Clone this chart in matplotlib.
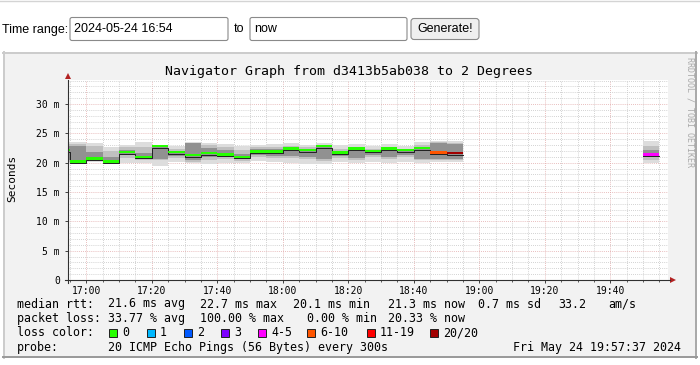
import matplotlib
matplotlib.use("Agg")
import matplotlib.pyplot as plt
from matplotlib.patches import Rectangle, FancyBboxPatch, Polygon

# smokeping samples, one per 5 min step (start of step), values in ms
times = ["16:50", "16:55", "17:00", "17:05", "17:10", "17:15", "17:20", "17:25",
         "17:30", "17:35", "17:40", "17:45", "17:50", "17:55", "18:00", "18:05",
         "18:10", "18:15", "18:20", "18:25", "18:30", "18:35", "18:40", "18:45",
         "18:50", "19:50"]
median_ms = [22.0, 20.1, 20.6, 20.1, 21.7, 20.9, 22.7, 21.7, 21.2, 21.5, 21.3, 20.9,
             21.8, 21.8, 22.3, 22.0, 22.7, 21.6, 22.3, 21.9, 22.3, 22.0, 22.4, 21.6,
             21.5, 21.3]
smoke_lo = [19.8, 19.7, 20.2, 19.7, 19.9, 19.9, 19.5, 20.1, 19.9, 19.8, 20.0, 19.9,
            20.3, 20.1, 20.0, 19.8, 19.7, 20.1, 19.9, 20.2, 19.9, 20.1, 19.9, 20.1,
            20.1, 20.0]
smoke_hi = [23.6, 23.6, 23.3, 22.6, 23.0, 23.5, 23.1, 22.9, 23.6, 23.4, 23.2, 22.8,
            23.0, 23.2, 23.4, 23.0, 23.4, 23.0, 23.2, 22.9, 23.2, 22.9, 23.6, 23.7,
            23.7, 23.7]
mid_lo = [20.2, 20.0, 20.5, 19.9, 20.8, 20.4, 20.4, 20.8, 20.2, 20.5, 20.7, 20.3,
          21.0, 20.8, 20.8, 20.6, 20.3, 20.8, 20.5, 20.9, 20.6, 20.9, 20.4, 20.5,
          20.5, 20.4]
mid_hi = [23.2, 23.2, 22.9, 22.0, 22.6, 22.6, 22.9, 22.4, 23.4, 23.0, 22.7, 22.2,
          22.7, 22.7, 22.8, 22.6, 23.0, 22.4, 22.7, 22.4, 22.7, 22.4, 23.0, 23.5,
          23.4, 22.9]
core_lo = [20.4, 20.3, 20.9, 20.2, 21.3, 20.8, 20.7, 21.2, 20.4, 20.9, 21.0, 20.6,
           21.3, 21.2, 21.2, 20.9, 20.6, 21.1, 20.8, 21.3, 20.9, 21.3, 20.7, 20.7,
           20.7, 20.9]
core_hi = [22.9, 22.8, 21.9, 21.0, 22.2, 21.6, 22.8, 22.0, 23.3, 22.5, 22.1, 21.4,
           22.3, 22.3, 22.5, 22.4, 22.9, 22.0, 22.6, 21.9, 22.5, 22.1, 22.6, 23.3,
           23.2, 22.2]
loss_class = [0] * 23 + [5, 7, 4]

loss_labels = ["0", "1", "2", "3", "4-5", "6-10", "11-19", "20/20"]
loss_colors = ["#26ff00", "#00b8ff", "#0059ff", "#7e00ff", "#ff00ff", "#ff5500",
               "#ff0000", "#a10000"]

x_ticks = ["17:00", "17:20", "17:40", "18:00", "18:20", "18:40", "19:00", "19:20", "19:40"]
y_ticks = [0, 5, 10, 15, 20, 25, 30]
y_tick_labels = ["0", "5 m", "10 m", "15 m", "20 m", "25 m", "30 m"]
t_start, t_end = "16:54:25", "19:57:37"
y_top = 34.1

MONO = "DejaVu Sans Mono"


def to_min(s):
    p = [int(v) for v in s.split(":")] + [0]
    return p[0] * 60 + p[1] + p[2] / 60.0 - 16 * 60


fig = plt.figure(figsize=(7, 3.65), dpi=100)

# page / rrdtool frame in pixel coordinates
bg = fig.add_axes([0, 0, 1, 1], zorder=0)
bg.set_xlim(0, 700)
bg.set_ylim(365, 0)
bg.axis("off")

bg.plot([0, 700], [0.5, 0.5], color="#d4d4d4", lw=1)
bg.text(2, 29.5, "Time range:", fontsize=9, family="Liberation Sans", va="center")
for x0, w, txt in [(70, 158, "2024-05-24 16:54"), (250, 157, "now")]:
    bg.add_patch(FancyBboxPatch((x0, 17.5), w, 23, boxstyle="round,pad=0,rounding_size=2",
                                fc="white", ec="#8a8a8a", lw=0.8))
    bg.text(x0 + 4, 29.5, txt, fontsize=9, family="Liberation Sans", va="center")
bg.text(234, 29.5, "to", fontsize=9, family="Liberation Sans", va="center")
bg.add_patch(FancyBboxPatch((411, 18.5), 68, 21, boxstyle="round,pad=0,rounding_size=3",
                            fc="#efefef", ec="#8a8a8a", lw=0.8))
bg.text(445, 29.5, "Generate!", fontsize=9, family="Liberation Sans", va="center", ha="center")

bg.add_patch(Rectangle((3, 52), 694, 306, fc="#f2f2f2", ec="none"))
bg.plot([3.7, 3.7], [52, 358], color="#cbcbcb", lw=1.4)
bg.plot([3, 697], [52.7, 52.7], color="#cbcbcb", lw=1.4)
bg.plot([696.3, 696.3], [52, 358], color="#a8a8a8", lw=1.4)
bg.plot([3, 697], [357.3, 357.3], color="#999999", lw=1.4)

bg.text(349, 71, "Navigator Graph from d3413b5ab038 to 2 Degrees", fontsize=9.5,
        family=MONO, ha="center", va="center")
bg.text(12, 178, "Seconds", fontsize=8, family=MONO, rotation=90, ha="center", va="center")
bg.text(690, 57, "RRDTOOL / TOBI OETIKER", fontsize=6, family=MONO, rotation=270,
        ha="center", va="top", color="#aaaaaa")

# arrow heads
bg.add_patch(Polygon([[676, 280], [670, 277], [670, 283]], closed=True, fc="#b22222", ec="none"))
bg.add_patch(Polygon([[68, 73], [65, 79], [71, 79]], closed=True, fc="#b22222", ec="none"))

# legend
rows = [
    (304, [("median rtt:", 17), ("21.6 ms avg", 108), ("22.7 ms max", 200),
           ("20.1 ms min", 293), ("21.3 ms now", 388), ("0.7 ms sd", 478),
           ("33.2", 558), ("am/s", 608)]),
    (318.5, [("packet loss:", 17), ("33.77 % avg", 108), ("100.00 % max", 200),
             ("0.00 % min", 307), ("20.33 % now", 388)]),
    (333, [("loss color:", 17)]),
    (347.5, [("probe:", 17), ("20 ICMP Echo Pings (56 Bytes) every 300s", 108)]),
]
for y, parts in rows:
    for txt, x in parts:
        bg.text(x, y, txt, fontsize=8.4, family=MONO, va="center")
bg.text(681, 347.5, "Fri May 24 19:57:37 2024", fontsize=8.4, family=MONO,
        va="center", ha="right")
sq_x = [109, 147, 184, 221, 258, 307, 367, 430]
for x, lab, col in zip(sq_x, loss_labels, loss_colors):
    bg.add_patch(Rectangle((x, 329), 8, 8, fc=col, ec="#202020", lw=0.7))
    bg.text(x + 13, 333, lab, fontsize=8.4, family=MONO, va="center")

# graph area
ax = fig.add_axes([68 / 700, 85 / 365, 600 / 700, 200 / 365], zorder=1)
ax.set_facecolor("white")
ax.set_xlim(to_min(t_start), to_min(t_end))
ax.set_ylim(0, y_top)

starts = [to_min(t) for t in times]
step = 5


def span(lo, hi):
    return [h - l for l, h in zip(lo, hi)]


ax.bar(starts, span(smoke_lo, smoke_hi), bottom=smoke_lo, width=step, align="edge",
       color="#dddddd", lw=0, zorder=2)
ax.bar(starts, span(mid_lo, mid_hi), bottom=mid_lo, width=step, align="edge",
       color="#c0c0c0", lw=0, zorder=2)
ax.bar(starts, span(core_lo, core_hi), bottom=core_lo, width=step, align="edge",
       color="#919191", lw=0, zorder=2)

# median line: thin dark line + loss coloured band
runs = [[0]]
for i in range(1, len(starts)):
    if starts[i] - starts[i - 1] == step:
        runs[-1].append(i)
    else:
        runs.append([i])
for r in runs:
    xs = [starts[i] for i in r] + [starts[r[-1]] + step]
    ys = [median_ms[i] - 0.15 for i in r] + [median_ms[r[-1]] - 0.15]
    ax.step(xs, ys, where="post", color="#202020", lw=0.7, zorder=3)
ax.bar(starts, 0.4, bottom=[m - 0.08 for m in median_ms], width=step, align="edge",
       color=[loss_colors[c] for c in loss_class], lw=0, zorder=4)

ax.set_xticks([to_min(t) for t in x_ticks])
ax.set_xticklabels(x_ticks)
ax.set_xticks([to_min("16:55") + step * k for k in range(37)], minor=True)
ax.set_yticks(y_ticks)
ax.set_yticklabels(y_tick_labels)
ax.set_yticks(range(0, 35), minor=True)
for lab in ax.get_xticklabels() + ax.get_yticklabels():
    lab.set_family(MONO)
    lab.set_fontsize(7)
ax.tick_params(which="major", direction="out", length=2.2, width=0.7, color="#404040")
ax.tick_params(axis="y", which="major", pad=3.6)
ax.tick_params(axis="x", which="major", pad=1.8)
ax.tick_params(which="minor", length=1.4, width=0.6, color="#404040")
ax.tick_params(axis="y", which="minor", length=0)

ax.set_axisbelow(True)
ax.grid(which="minor", color="#c4c4c4", linestyle=(0, (1, 1.5)), lw=0.6)
ax.grid(which="major", color="#e2a8a8", linestyle=(0, (1, 1.5)), lw=0.6)
for s in ax.spines.values():
    s.set_visible(False)
ax.plot([-0.005, 1.003], [0, 0], transform=ax.transAxes, color="#303030", lw=0.8,
        clip_on=False, zorder=5)
ax.plot([0, 0], [-0.015, 1.0], transform=ax.transAxes, color="#303030", lw=0.8,
        clip_on=False, zorder=5)

fig.savefig("out.png", dpi=100)
